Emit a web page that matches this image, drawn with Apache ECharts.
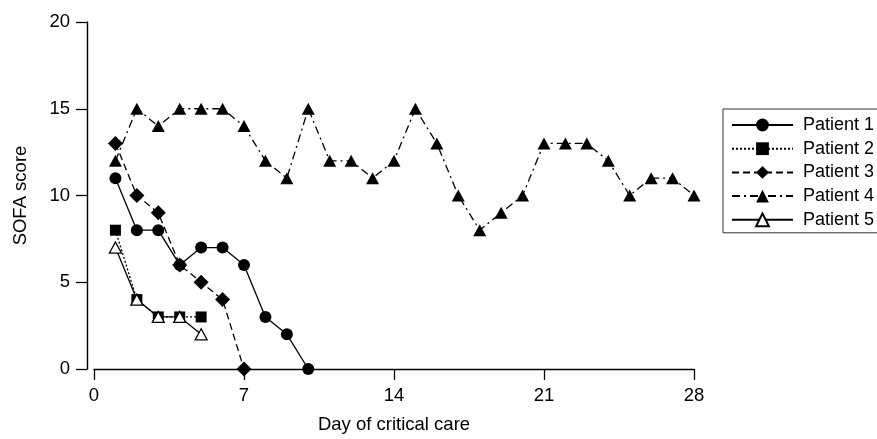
<!DOCTYPE html>
<html>
<head>
<meta charset="utf-8">
<script src="https://cdn.jsdelivr.net/npm/echarts@6/dist/echarts.min.js"></script>
<style>html,body{margin:0;padding:0;background:#fff}#c{width:877px;height:439px}</style>
</head>
<body>
<div id="c"></div>
<script>
const xTicks = [0, 7, 14, 21, 28];
const yTicks = [0, 5, 10, 15, 20];
const seriesNames = ['Patient 1', 'Patient 2', 'Patient 3', 'Patient 4', 'Patient 5'];
const days1 = [1, 2, 3, 4, 5, 6, 7, 8, 9, 10];
const patient1 = [11, 8, 8, 6, 7, 7, 6, 3, 2, 0];
const days2 = [1, 2, 3, 4, 5];
const patient2 = [8, 4, 3, 3, 3];
const days3 = [1, 2, 3, 4, 5, 6, 7];
const patient3 = [13, 10, 9, 6, 5, 4, 0];
const days4 = [1, 2, 3, 4, 5, 6, 7, 8, 9, 10, 11, 12, 13, 14, 15, 16, 17, 18, 19, 20, 21, 22, 23, 24, 25, 26, 27, 28];
const patient4 = [12, 15, 14, 15, 15, 15, 14, 12, 11, 15, 12, 12, 11, 12, 15, 13, 10, 8, 9, 10, 13, 13, 13, 12, 10, 11, 11, 10];
const days5 = [1, 2, 3, 4, 5];
const patient5 = [7, 4, 3, 3, 2];

function pairs(xs, ys) { return xs.map((x, i) => [x, ys[i]]); }

const FONT = 'Liberation Sans, Arial, Helvetica, sans-serif';
const FS = 18.5;
const chart = echarts.init(document.getElementById('c'), null, {renderer: 'canvas'});

const base = {type: 'line', z: 2, animation: false};

chart.setOption({
  backgroundColor: '#fff',
  animation: false,
  textStyle: {fontFamily: FONT},
  grid: {left: 94, right: 183, top: 22, bottom: 70, containLabel: false, outerBoundsMode: 'none'},
  legend: {
    orient: 'vertical', left: 723, top: 109,
    data: seriesNames,
    itemWidth: 61, itemHeight: 16, itemGap: 5.7,
    padding: [7, 40, 4, 8],
    borderColor: '#333', borderWidth: 1,
    textStyle: {fontSize: 18, lineHeight: 16, color: '#000', fontFamily: FONT, padding: [0, 0, 0, 5]},
    selectedMode: false
  },
  xAxis: {
    type: 'value', min: xTicks[0], max: xTicks[xTicks.length - 1], interval: 7,
    name: 'Day of critical care', nameLocation: 'middle', nameGap: 46, nameMoveOverlap: false,
    nameTextStyle: {fontSize: FS, color: '#000', fontFamily: FONT},
    axisLine: {show: true, onZero: false, lineStyle: {color: '#000', width: 1.4}},
    axisTick: {show: true, length: 11, lineStyle: {color: '#000', width: 1.3}},
    axisLabel: {fontSize: FS, color: '#000', margin: 17, fontFamily: FONT},
    splitLine: {show: false}
  },
  yAxis: {
    type: 'value', min: yTicks[0], max: yTicks[yTicks.length - 1], interval: 5,
    offset: 7,
    name: 'SOFA score', nameLocation: 'middle', nameGap: 57, nameRotate: 90, nameMoveOverlap: false,
    nameTextStyle: {fontSize: FS, color: '#000', fontFamily: FONT},
    axisLine: {show: true, onZero: false, lineStyle: {color: '#000', width: 1.4}},
    axisTick: {show: true, length: 11, lineStyle: {color: '#000', width: 1.3}},
    axisLabel: {fontSize: FS, color: '#000', margin: 17, fontFamily: FONT},
    splitLine: {show: false}
  },
  series: [
    Object.assign({}, base, {name: seriesNames[0], data: pairs(days1, patient1),
      symbol: 'circle', symbolSize: 12, itemStyle: {color: '#000'},
      lineStyle: {color: '#000', width: 1.3, type: 'solid'}}),
    Object.assign({}, base, {name: seriesNames[1], data: pairs(days2, patient2),
      symbol: 'rect', symbolSize: 11, itemStyle: {color: '#000'},
      lineStyle: {color: '#000', width: 1.3, type: [2, 2]}}),
    Object.assign({}, base, {name: seriesNames[2], data: pairs(days3, patient3),
      symbol: 'diamond', symbolSize: [15, 15], itemStyle: {color: '#000'},
      lineStyle: {color: '#000', width: 1.3, type: [7, 4]}}),
    Object.assign({}, base, {name: seriesNames[3], data: pairs(days4, patient4),
      symbol: 'triangle', symbolSize: [13, 12], itemStyle: {color: '#000'},
      lineStyle: {color: '#000', width: 1.3, type: [8, 4, 2, 4]}}),
    Object.assign({}, base, {name: seriesNames[4], data: pairs(days5, patient5),
      symbol: 'triangle', symbolSize: [12, 11], itemStyle: {color: '#fff', borderColor: '#000', borderWidth: 1.3},
      lineStyle: {color: '#000', width: 1.3, type: 'solid'}})
  ]
});
</script>
</body>
</html>
